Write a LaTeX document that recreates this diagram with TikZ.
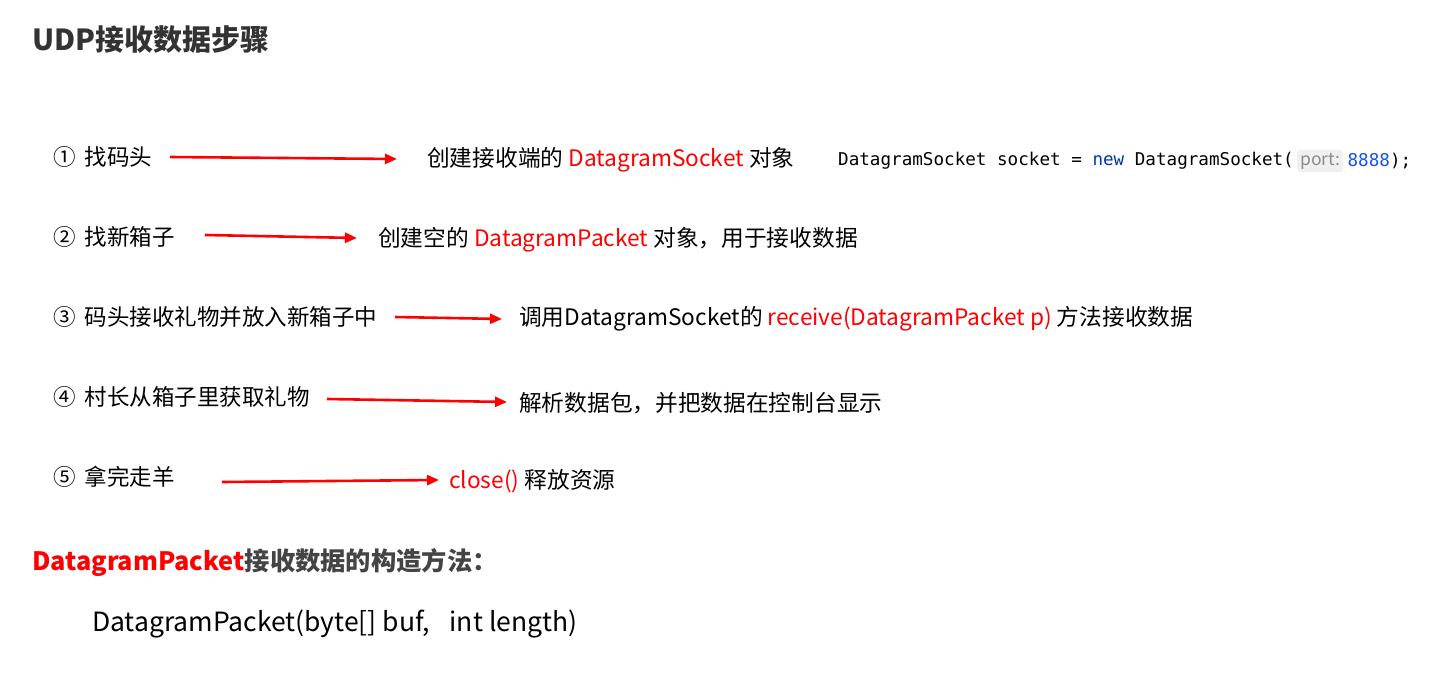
\documentclass[tikz,border=0pt]{standalone}
\usepackage{fontspec}
\setmainfont{Noto Sans CJK SC}
\newfontfamily\codefont{DejaVu Sans Mono}
\usepackage{xcolor}
\definecolor{titlegray}{HTML}{333333}
\definecolor{headgray}{HTML}{444444}
\definecolor{hotred}{HTML}{FF0000}
\definecolor{kwblue}{HTML}{0033B3}
\definecolor{numblue}{HTML}{1750EB}
\definecolor{hintbg}{HTML}{F0F0F0}
\definecolor{hintgray}{HTML}{8C8C8C}
\usepackage{tikz}
\usetikzlibrary{
  arrows.meta,
  positioning
}

\begin{document}
\begin{tikzpicture}[
  x=1pt, y=-1pt,
  titletxt/.style={anchor=west, inner sep=0pt, font=\fontsize{29}{33}\selectfont\bfseries, text=titlegray},
  steptxt/.style={anchor=west, inner sep=0pt, font=\fontsize{22.5}{26}\selectfont, text=black},
  desctxt/.style={anchor=west, inner sep=0pt, font=\fontsize{22.7}{26}\selectfont, text=black},
  code/.style={anchor=west, inner sep=0pt, font=\codefont\fontsize{17.6}{20}\selectfont, text=black},
  hint/.style={inner sep=3pt, rounded corners=3pt, fill=hintbg, font=\fontsize{17.5}{20}\selectfont, text=hintgray},
  arr/.style={-{Triangle[length=12pt,width=10pt]}, line width=2.6pt, hotred},
]
\useasboundingbox (0,0) rectangle (1430,696);

% Titel
\node[titletxt] (title) at (32,40) {UDP接收数据步骤};

% Schritte (links)
\node[steptxt] (s1) at (53,157) {①\hspace{9pt}找码头};
\node[steptxt] (s2) at (53,237) {②\hspace{9pt}找新箱子};
\node[steptxt] (s3) at (53,317) {③\hspace{9pt}码头接收礼物并放入新箱子中};
\node[steptxt] (s4) at (53,397) {④\hspace{9pt}村长从箱子里获取礼物};
\node[steptxt] (s5) at (53,477) {⑤\hspace{9pt}拿完走羊};

% Beschreibungen (rechts)
\node[desctxt] (d1) at (427,160) {创建接收端的 \textcolor{hotred}{DatagramSocket} 对象};
\node[desctxt] (d2) at (378,240) {创建空的 \textcolor{hotred}{DatagramPacket} 对象，用于接收数据};
\node[desctxt] (d3) at (519,319) {调用DatagramSocket的 \textcolor{hotred}{receive(DatagramPacket p)} 方法接收数据};
\node[desctxt] (d4) at (519,403) {解析数据包，并把数据在控制台显示};
\node[desctxt] (d5) at (449,481) {\textcolor{hotred}{close()} 释放资源};

% Code
\node[code] (sockcode) at (838,161) {DatagramSocket socket = \textcolor{kwblue}{new} DatagramSocket(};
\node[hint, right=3pt of sockcode] (porthint) {port:};
\node[code, right=4pt of porthint] (portnum) {\textcolor{numblue}{8888});};

% Pfeile
\coordinate (a1s) at (170,157); \coordinate (a1e) at (397,159);
\coordinate (a2s) at (205,235); \coordinate (a2e) at (357,238);
\coordinate (a3s) at (395,317); \coordinate (a3e) at (502,319);
\coordinate (a4s) at (327,399); \coordinate (a4e) at (507,402);
\coordinate (a5s) at (222,482); \coordinate (a5e) at (439,480);
\draw[arr] (a1s) -- (a1e);
\draw[arr] (a2s) -- (a2e);
\draw[arr] (a3s) -- (a3e);
\draw[arr] (a4s) -- (a4e);
\draw[arr] (a5s) -- (a5e);

% Konstruktor
\node[titletxt, font=\fontsize{25.3}{29}\selectfont\bfseries, text=headgray] (ctorhead) at (32,562) {\textcolor{hotred}{DatagramPacket}接收数据的构造方法：};
\node[desctxt, font=\fontsize{26.5}{30}\selectfont] (ctor) at (92,624) {DatagramPacket(byte[] buf,\hspace{20pt}int length)};

\end{tikzpicture}
\end{document}
